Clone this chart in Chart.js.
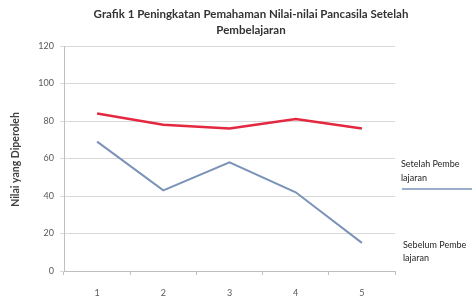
<!DOCTYPE html>
<html>
<head>
<meta charset="utf-8">
<script src="https://cdn.jsdelivr.net/npm/chart.js@4/dist/chart.umd.min.js"></script>
<style>
html,body{margin:0;padding:0;background:#fff;}
#wrap{width:472px;height:300px;position:relative;}
</style>
</head>
<body>
<div id="wrap"><canvas id="c" width="472" height="300"></canvas></div>
<script>
const categories = ['1', '2', '3', '4', '5'];
const setelahValues = [84, 78, 76, 81, 76];
const sebelumValues = [69, 43, 58, 42, 15];
const yTickValues = [0, 20, 40, 60, 80, 100, 120];
const titleLines = ['Grafik 1 Peningkatan Pemahaman Nilai-nilai Pancasila Setelah', 'Pembelajaran'];
const yAxisTitle = 'Nilai yang Diperoleh';
const seriesNames = ['Setelah Pembelajaran', 'Sebelum Pembelajaran'];
const legendLines = [['Setelah Pembe', 'lajaran'], ['Sebelum Pembe', 'lajaran']];

const FONT = 'Lato, "Liberation Sans", sans-serif';

const decorations = {
  id: 'decorations',
  afterDraw(chart) {
    const ctx = chart.ctx;
    const area = chart.chartArea;
    ctx.save();
    // Title
    ctx.fillStyle = '#333333';
    ctx.font = 'bold 11.5px ' + FONT;
    ctx.textAlign = 'center';
    ctx.textBaseline = 'middle';
    ctx.fillText(titleLines[0], 251, 14);
    ctx.fillText(titleLines[1], 251, 30);
    // Y axis title
    ctx.save();
    ctx.translate(16, (area.top + area.bottom) / 2 + 1);
    ctx.rotate(-Math.PI / 2);
    ctx.font = 'bold 10.5px ' + FONT;
    ctx.fillStyle = '#404040';
    ctx.fillText(yAxisTitle, 0, 0);
    ctx.restore();
    // Legend
    ctx.font = '9px ' + FONT;
    ctx.textAlign = 'left';
    ctx.fillStyle = '#262626';
    ctx.fillText(legendLines[0][0], 401, 164);
    ctx.fillText(legendLines[0][1], 401, 178);
    ctx.fillText(legendLines[1][0], 403, 245);
    ctx.fillText(legendLines[1][1], 403, 258);
    ctx.strokeStyle = chart.data.datasets[1].borderColor;
    ctx.lineWidth = 1.5;
    ctx.beginPath();
    ctx.moveTo(402, 189);
    ctx.lineTo(472, 189);
    ctx.stroke();
    ctx.restore();
  }
};

new Chart(document.getElementById('c'), {
  type: 'line',
  data: {
    labels: categories,
    datasets: [
      {
        label: seriesNames[0],
        data: setelahValues,
        borderColor: '#e3283f',
        borderWidth: 2.5,
        pointRadius: 0,
        tension: 0,
        fill: false
      },
      {
        label: seriesNames[1],
        data: sebelumValues,
        borderColor: '#7b93b8',
        borderWidth: 2,
        pointRadius: 0,
        tension: 0,
        fill: false
      }
    ]
  },
  options: {
    responsive: false,
    animation: false,
    devicePixelRatio: 1,
    layout: { padding: { top: 46, right: 77, left: 0, bottom: 0 } },
    plugins: {
      legend: { display: false },
      title: { display: false },
      tooltip: { enabled: false }
    },
    scales: {
      x: {
        type: 'category',
        offset: true,
        grid: { display: true, drawOnChartArea: false, drawTicks: true, tickLength: 4, color: '#bfbfbf', offset: true },
        border: { color: '#bfbfbf', width: 1 },
        ticks: { color: '#595959', font: { size: 9, family: FONT }, padding: 13, maxRotation: 0 },
        afterFit(s) { s.height = 29; }
      },
      y: {
        min: 0,
        max: 120,
        afterBuildTicks(s) { s.ticks = yTickValues.map(v => ({ value: v })); },
        ticks: { color: '#595959', font: { size: 9, family: FONT }, padding: 6 },
        grid: { color: '#d9d9d9', tickLength: 4, drawTicks: true, lineWidth: 1 },
        border: { color: '#bfbfbf', width: 1 },
        afterFit(s) { s.width = 64; }
      }
    }
  },
  plugins: [decorations]
});
</script>
</body>
</html>
